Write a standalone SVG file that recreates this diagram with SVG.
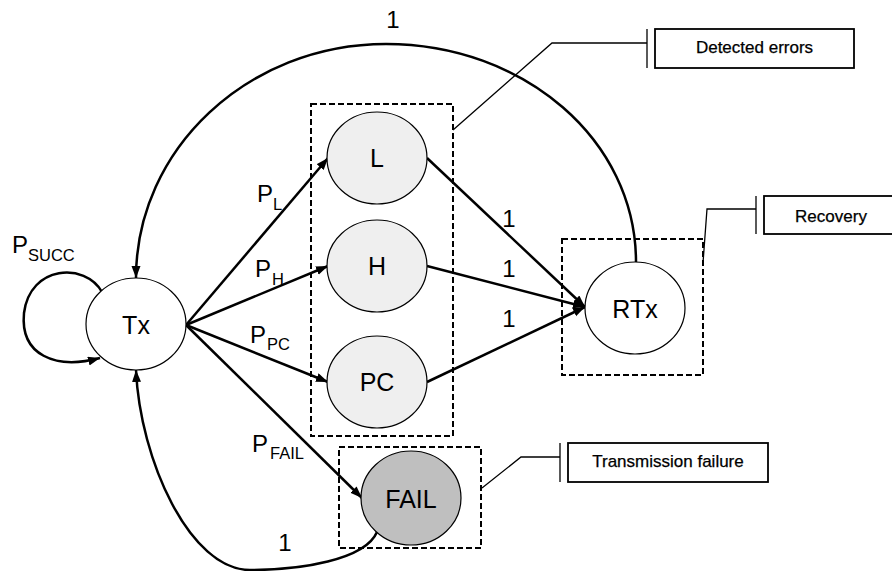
<svg xmlns="http://www.w3.org/2000/svg" width="892" height="571" viewBox="0 0 892 571">
<style>
text{font-family:"Liberation Sans",Arial,sans-serif;fill:#000}
.node{stroke:#000;stroke-width:1.2}
.plain{fill:#fff}
.light{fill:#efefef}
.dark{fill:#bfbfbf}
.lbl{font-size:25px;text-anchor:middle}
.p{font-size:24px}
.sub{font-size:16.5px}
.num{font-size:24px;text-anchor:middle}
.edge{fill:none;stroke:#000;stroke-width:2.5}
.group{fill:none;stroke:#000;stroke-width:2;stroke-dasharray:6,3}
.leader{fill:none;stroke:#000;stroke-width:1.3}
.cbox{fill:#fff;stroke:#000;stroke-width:1.8}
.ctext{font-size:17px;text-anchor:middle;stroke:#000;stroke-width:0.25}
</style>
<defs>
<marker id="arr" markerUnits="userSpaceOnUse" markerWidth="13" markerHeight="10" refX="12" refY="4.5" orient="auto">
<path d="M0,0 L12,4.5 L0,9 z" fill="#000"/>
</marker>
</defs>
<rect width="892" height="571" fill="#fff"/>

<g id="groups">
<rect class="group" x="311" y="104" width="142" height="332"/>
<rect class="group" x="562" y="239" width="141" height="136"/>
<rect class="group" x="339" y="447" width="142" height="101"/>
</g>

<g id="connectors">
<path class="edge" d="M102,292 C85,262 30,265 24,313 C20,355 55,370 100,358" marker-end="url(#arr)"/>
<path class="edge" d="M636,262 C636,140 524,44 386,44 C248,44 136,149 136,278" marker-end="url(#arr)"/>
<path class="edge" d="M377,532 C365,560 300,570 250,570 C190,570 140,460 136,370" marker-end="url(#arr)"/>
<line class="edge" x1="186" y1="325" x2="328" y2="158" marker-end="url(#arr)"/>
<line class="edge" x1="186" y1="325" x2="328" y2="266" marker-end="url(#arr)"/>
<line class="edge" x1="186" y1="325" x2="328" y2="382" marker-end="url(#arr)"/>
<line class="edge" x1="186" y1="325" x2="362" y2="498" marker-end="url(#arr)"/>
<line class="edge" x1="427" y1="158" x2="585" y2="307" marker-end="url(#arr)"/>
<line class="edge" x1="427" y1="266" x2="585" y2="307" marker-end="url(#arr)"/>
<line class="edge" x1="427" y1="382" x2="585" y2="307" marker-end="url(#arr)"/>
</g>

<g id="edge-labels">
<text class="p" x="12" y="253">P</text><text class="sub" x="28" y="261">SUCC</text>
<text class="p" x="257" y="202">P</text><text class="sub" x="273" y="210">L</text>
<text class="p" x="255" y="277">P</text><text class="sub" x="272" y="285">H</text>
<text class="p" x="250" y="343">P</text><text class="sub" x="267" y="350">PC</text>
<text class="p" x="252" y="452">P</text><text class="sub" x="270" y="459">FAIL</text>
<text class="num" x="393" y="28">1</text>
<text class="num" x="509" y="227">1</text>
<text class="num" x="509" y="277">1</text>
<text class="num" x="509" y="327">1</text>
<text class="num" x="285" y="551">1</text>
</g>

<g id="Tx"><ellipse class="node plain" cx="136" cy="324" rx="50" ry="46"/><text class="lbl" x="136" y="334">Tx</text></g>
<g id="L"><ellipse class="node light" cx="377" cy="158" rx="50" ry="46"/><text class="lbl" x="377" y="167">L</text></g>
<g id="H"><ellipse class="node light" cx="377" cy="266" rx="50" ry="46"/><text class="lbl" x="377" y="275">H</text></g>
<g id="PC"><ellipse class="node light" cx="377" cy="382" rx="50" ry="46"/><text class="lbl" x="377" y="391">PC</text></g>
<g id="RTx"><ellipse class="node plain" cx="635" cy="308" rx="50" ry="46"/><text class="lbl" x="635" y="318">RTx</text></g>
<g id="FAIL"><ellipse class="node dark" cx="411" cy="498" rx="50" ry="47"/><text class="lbl" x="411" y="508">FAIL</text></g>

<g id="callout-detected">
<polyline class="leader" points="453,130 552,43 647,43"/>
<line class="leader" x1="647" y1="29" x2="647" y2="68"/>
<rect class="cbox" x="655" y="29" width="199" height="39"/>
<text class="ctext" x="754.5" y="53">Detected errors</text>
</g>
<g id="callout-recovery">
<polyline class="leader" points="703,263 707,209 756,209"/>
<line class="leader" x1="756" y1="196" x2="756" y2="234"/>
<rect class="cbox" x="764" y="196" width="140" height="38"/>
<text class="ctext" x="831" y="222">Recovery</text>
</g>
<g id="callout-failure">
<polyline class="leader" points="482,488 521,457 560,457"/>
<line class="leader" x1="560" y1="443" x2="560" y2="482"/>
<rect class="cbox" x="568" y="443" width="200" height="39"/>
<text class="ctext" x="668" y="467">Transmission failure</text>
</g>
</svg>
